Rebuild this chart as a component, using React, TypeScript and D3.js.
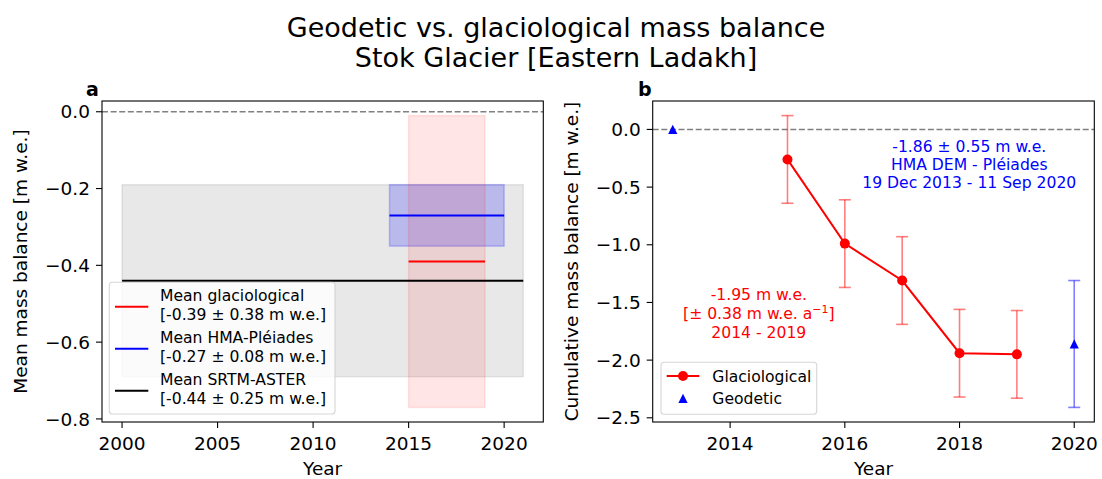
import React from "react";
import * as d3 from "d3";

// ---------- data ----------
const titleLines = ["Geodetic vs. glaciological mass balance", "Stok Glacier [Eastern Ladakh]"];

// panel a: mean annual mass balance estimates
const meanLabels = ["Mean glaciological", "Mean HMA-Pléiades", "Mean SRTM-ASTER"];
const meanRangeText = ["[-0.39 ± 0.38 m w.e.]", "[-0.27 ± 0.08 m w.e.]", "[-0.44 ± 0.25 m w.e.]"];
const meanValues = [-0.39, -0.27, -0.44];
const meanErrors = [0.38, 0.08, 0.25];
const meanStartYear = [2015, 2014, 2000];
const meanEndYear = [2019, 2020, 2021];
const aXTicks = [2000, 2005, 2010, 2015, 2020];
const aYTicks = [0, -0.2, -0.4, -0.6, -0.8];

// panel b: cumulative mass balance
const glacYears = [2015, 2016, 2017, 2018, 2019];
const glacCumulative = [-0.26, -0.99, -1.31, -1.94, -1.95];
const glacErrors = [0.38, 0.38, 0.38, 0.38, 0.38];
const geoYears = [2013, 2020];
const geoCumulative = [0, -1.86];
const geoErrors = [0, 0.55];
const bXTicks = [2014, 2016, 2018, 2020];
const bYTicks = [0, -0.5, -1.0, -1.5, -2.0, -2.5];

const glacAnnotation = ["-1.95 m w.e.", "[± 0.38 m w.e. a", "2014 - 2019"];
const geoAnnotation = ["-1.86 ± 0.55 m w.e.", "HMA DEM - Pléiades", "19 Dec 2013 - 11 Sep 2020"];
const legendBLabels = ["Glaciological", "Geodetic"];

// ---------- styles ----------
const FONT = "DejaVu Sans";
const TICK_FS = 18.5;
const SMALL_FS = 15.6;
const meanColors = ["red", "blue", "black"];
const boxColors = ["red", "blue", "gray"];
const boxAlpha = [0.1, 0.2, 0.18];

const W = 1102;
const H = 479;
const A = { left: 102, right: 543.3, top: 101, bottom: 422 };
const B = { left: 652.7, right: 1094.3, top: 101, bottom: 422 };

function pad(ext: [number, number], f = 0.05): [number, number] {
  const s = ext[1] - ext[0];
  return [ext[0] - s * f, ext[1] + s * f];
}

const fmtTick = (v: number) => d3.format(".1f")(v).replace("-", "\u2212");

function Frame({ box }: { box: typeof A }) {
  return (
    <rect x={box.left} y={box.top} width={box.right - box.left} height={box.bottom - box.top}
      fill="none" stroke="black" strokeWidth={1.1} />
  );
}

function XTicks({ box, scale, ticks }: any) {
  return (
    <g>
      {ticks.map((t: number) => (
        <g key={t}>
          <line x1={scale(t)} x2={scale(t)} y1={box.bottom} y2={box.bottom + 6} stroke="black" strokeWidth={1.1} />
          <text x={scale(t)} y={box.bottom + 27.5} textAnchor="middle" fontSize={TICK_FS} fontFamily={FONT}>{t}</text>
        </g>
      ))}
    </g>
  );
}

function YTicks({ box, scale, ticks }: any) {
  return (
    <g>
      {ticks.map((t: number) => (
        <g key={t}>
          <line x1={box.left - 6} x2={box.left} y1={scale(t)} y2={scale(t)} stroke="black" strokeWidth={1.1} />
          <text x={box.left - 12} y={scale(t) + TICK_FS * 0.36} textAnchor="end" fontSize={TICK_FS} fontFamily={FONT}>{fmtTick(t)}</text>
        </g>
      ))}
    </g>
  );
}

export default function App() {
  // ----- panel a scales -----
  const aXExt: [number, number] = [d3.min(meanStartYear)!, d3.max(meanEndYear)!];
  const aYExt: [number, number] = [
    d3.min(meanValues.map((v, i) => v - meanErrors[i]))!,
    d3.max(meanValues.map((v, i) => v + meanErrors[i]))!,
  ];
  const xA = d3.scaleLinear().domain(pad(aXExt)).range([A.left, A.right]);
  const yA = d3.scaleLinear().domain(pad(aYExt)).range([A.bottom, A.top]);

  // ----- panel b scales -----
  const allYears = [...glacYears, ...geoYears];
  const bXExt = d3.extent(allYears) as [number, number];
  const lows = [...glacCumulative.map((v, i) => v - glacErrors[i]), ...geoCumulative.map((v, i) => v - geoErrors[i])];
  const highs = [...glacCumulative.map((v, i) => v + glacErrors[i]), ...geoCumulative.map((v, i) => v + geoErrors[i])];
  const bYExt: [number, number] = [d3.min(lows)!, d3.max(highs)!];
  const xB = d3.scaleLinear().domain(pad(bXExt)).range([B.left, B.right]);
  const yB = d3.scaleLinear().domain(pad(bYExt)).range([B.bottom, B.top]);

  const glacLine = d3.line<number>().x((_, i) => xB(glacYears[i])).y((d) => yB(d));

  const tri = (cx: number, cy: number, s = 4.6) =>
    `M${cx},${cy - s}L${cx + s},${cy + s}L${cx - s},${cy + s}Z`;

  // draw order for boxes: gray (SRTM), blue (HMA), red (glaciological)
  const boxOrder = [2, 1, 0];

  const legA = { x: 109.3, y: 282.3, w: 225.7, h: 131.7 };
  const legB = { x: 661, y: 362.3, w: 155.7, h: 52 };

  const annRedX = xB(2014.5);
  const annBlueX = xB(2018.17);

  return (
    <div style={{ position: "absolute", left: 0, top: 0 }}>
      <svg width={W} height={H} viewBox={`0 0 ${W} ${H}`} style={{ display: "block", background: "white" }}>
        <rect width={W} height={H} fill="white" />
        {/* title */}
        {titleLines.map((t, i) => (
          <text key={i} x={556} y={37 + i * 30} textAnchor="middle" fontSize={27} fontFamily={FONT}>{t}</text>
        ))}

        {/* ================= panel a ================= */}
        <g>
          {boxOrder.map((i) => {
            const x0 = xA(meanStartYear[i]);
            const x1 = xA(meanEndYear[i]);
            const y0 = yA(meanValues[i] + meanErrors[i]);
            const y1 = yA(meanValues[i] - meanErrors[i]);
            return (
              <rect key={"box" + i} x={x0} y={y0} width={x1 - x0} height={y1 - y0}
                fill={boxColors[i]} fillOpacity={boxAlpha[i]}
                stroke={boxColors[i]} strokeOpacity={boxAlpha[i]} strokeWidth={1.5} />
            );
          })}
          <line x1={A.left} x2={A.right} y1={yA(0)} y2={yA(0)} stroke="gray" strokeWidth={1.6} strokeDasharray="6,2.6" />
          {boxOrder.map((i) => (
            <line key={"mean" + i} x1={xA(meanStartYear[i])} x2={xA(meanEndYear[i])}
              y1={yA(meanValues[i])} y2={yA(meanValues[i])} stroke={meanColors[i]} strokeWidth={2} />
          ))}
          {/* legend a */}
          <rect x={legA.x} y={legA.y} width={legA.w} height={legA.h} rx={3}
            fill="white" fillOpacity={0.8} stroke="#cccccc" strokeOpacity={0.8} strokeWidth={1.1} />
          {meanLabels.map((lab, i) => {
            const cy = 306.7 + i * 42;
            return (
              <g key={"lega" + i}>
                <line x1={115} x2={148.3} y1={cy} y2={cy} stroke={meanColors[i]} strokeWidth={2} />
                <text x={160} y={cy - 6} fontSize={SMALL_FS} fontFamily={FONT}>{lab}</text>
                <text x={160} y={cy + 13.3} fontSize={SMALL_FS} fontFamily={FONT}>{meanRangeText[i]}</text>
              </g>
            );
          })}
          <Frame box={A} />
          <XTicks box={A} scale={xA} ticks={aXTicks} />
          <YTicks box={A} scale={yA} ticks={aYTicks} />
          <text x={(A.left + A.right) / 2} y={475} textAnchor="middle" fontSize={TICK_FS} fontFamily={FONT}>Year</text>
          <text transform={`translate(27,${(A.top + A.bottom) / 2}) rotate(-90)`} textAnchor="middle" fontSize={TICK_FS} fontFamily={FONT}>Mean mass balance [m w.e.]</text>
          <text x={86} y={96} fontSize={19} fontWeight="bold" fontFamily={FONT}>a</text>
        </g>

        {/* ================= panel b ================= */}
        <g>
          <line x1={B.left} x2={B.right} y1={yB(0)} y2={yB(0)} stroke="gray" strokeWidth={1.6} strokeDasharray="6,2.6" />
          {/* glaciological error bars */}
          {glacYears.map((yr, i) => {
            const x = xB(yr);
            const yt = yB(glacCumulative[i] + glacErrors[i]);
            const yb = yB(glacCumulative[i] - glacErrors[i]);
            return (
              <g key={"eg" + i} stroke="red" strokeOpacity={0.5} strokeWidth={1.6}>
                <line x1={x} x2={x} y1={yt} y2={yb} />
                <line x1={x - 6} x2={x + 6} y1={yt} y2={yt} />
                <line x1={x - 6} x2={x + 6} y1={yb} y2={yb} />
              </g>
            );
          })}
          {/* geodetic error bars */}
          {geoYears.map((yr, i) => {
            if (!geoErrors[i]) return null;
            const x = xB(yr);
            const yt = yB(geoCumulative[i] + geoErrors[i]);
            const yb = yB(geoCumulative[i] - geoErrors[i]);
            return (
              <g key={"eo" + i} stroke="blue" strokeOpacity={0.5} strokeWidth={1.6}>
                <line x1={x} x2={x} y1={yt} y2={yb} />
                <line x1={x - 6} x2={x + 6} y1={yt} y2={yt} />
                <line x1={x - 6} x2={x + 6} y1={yb} y2={yb} />
              </g>
            );
          })}
          <path d={glacLine(glacCumulative) || ""} fill="none" stroke="red" strokeWidth={2} />
          {glacYears.map((yr, i) => (
            <circle key={"gc" + i} cx={xB(yr)} cy={yB(glacCumulative[i])} r={5} fill="red" />
          ))}
          {geoYears.map((yr, i) => (
            <path key={"gt" + i} d={tri(xB(yr), yB(geoCumulative[i]))} fill="blue" />
          ))}
          {/* annotations */}
          <text x={annBlueX} y={152.3} textAnchor="middle" fontSize={SMALL_FS} fontFamily={FONT} fill="blue">{geoAnnotation[0]}</text>
          <text x={annBlueX} y={170.3} textAnchor="middle" fontSize={SMALL_FS} fontFamily={FONT} fill="blue">{geoAnnotation[1]}</text>
          <text x={annBlueX} y={188.3} textAnchor="middle" fontSize={SMALL_FS} fontFamily={FONT} fill="blue">{geoAnnotation[2]}</text>
          <text x={annRedX} y={300} textAnchor="middle" fontSize={SMALL_FS} fontFamily={FONT} fill="red">{glacAnnotation[0]}</text>
          <text x={annRedX} y={319.3} textAnchor="middle" fontSize={SMALL_FS} fontFamily={FONT} fill="red">
            {glacAnnotation[1]}
            <tspan dy={-6} fontSize={SMALL_FS * 0.7}>{"\u22121"}</tspan>
            <tspan dy={6}>]</tspan>
          </text>
          <text x={annRedX} y={338.3} textAnchor="middle" fontSize={SMALL_FS} fontFamily={FONT} fill="red">{glacAnnotation[2]}</text>
          {/* legend b */}
          <rect x={legB.x} y={legB.y} width={legB.w} height={legB.h} rx={3}
            fill="white" fillOpacity={0.8} stroke="#cccccc" strokeOpacity={0.8} strokeWidth={1.1} />
          <line x1={666.7} x2={699.3} y1={376} y2={376} stroke="red" strokeWidth={2} />
          <circle cx={683} cy={376} r={5} fill="red" />
          <text x={712.3} y={381.5} fontSize={SMALL_FS} fontFamily={FONT}>{legendBLabels[0]}</text>
          <path d={tri(683, 398.3)} fill="blue" />
          <text x={712.3} y={403.8} fontSize={SMALL_FS} fontFamily={FONT}>{legendBLabels[1]}</text>

          <Frame box={B} />
          <XTicks box={B} scale={xB} ticks={bXTicks} />
          <YTicks box={B} scale={yB} ticks={bYTicks} />
          <text x={(B.left + B.right) / 2} y={475} textAnchor="middle" fontSize={TICK_FS} fontFamily={FONT}>Year</text>
          <text transform={`translate(577.7,${(B.top + B.bottom) / 2}) rotate(-90)`} textAnchor="middle" fontSize={TICK_FS} fontFamily={FONT}>Cumulative mass balance [m w.e.]</text>
          <text x={638} y={96} fontSize={19} fontWeight="bold" fontFamily={FONT}>b</text>
        </g>
      </svg>
    </div>
  );
}
